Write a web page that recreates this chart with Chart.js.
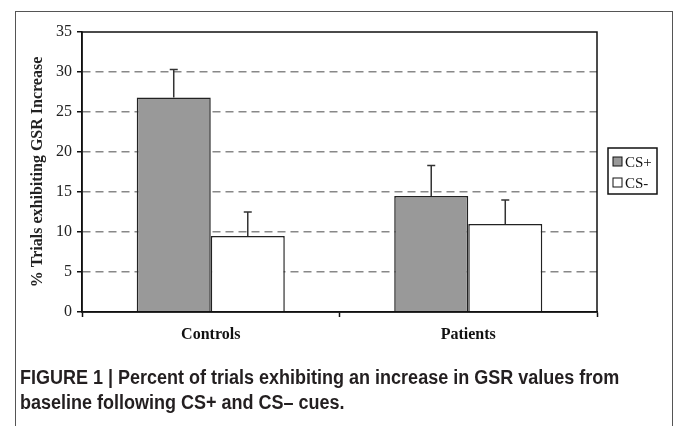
<!DOCTYPE html>
<html>
<head>
<meta charset="utf-8">
<script src="https://cdn.jsdelivr.net/npm/chart.js@4"></script>
<style>
  html, body { margin: 0; padding: 0; background: #fff; overflow: hidden; }
  #wrap { position: relative; width: 675px; height: 426px; }
  #frame { position: absolute; left: 15px; top: 11px; width: 658px; height: 480px; border: 1.5px solid #555; box-sizing: border-box; }
  #c { position: absolute; left: 0; top: 0; }
  #caption { position: absolute; left: 20px; top: 365px; font: bold 20px 'Liberation Sans Narrow', 'Liberation Sans', sans-serif; color: #231f20; line-height: 25px; white-space: nowrap; transform: scaleX(0.9); transform-origin: 0 0; }
</style>
</head>
<body>
<div id="wrap">
  <div id="frame"></div>
  <canvas id="c" width="675" height="426"></canvas>
  <div id="caption">FIGURE 1 | Percent of trials exhibiting an increase in GSR values from<br>baseline following CS+ and CS– cues.</div>
</div>
<script>
// данные с картинки
const categories = ['Controls', 'Patients'];
const seriesNames = ['CS+', 'CS-'];
const csPlus = [26.8, 14.5];
const csMinus = [9.5, 11.0];
const csPlusErr = [3.5, 3.8];   // только вверх
const csMinusErr = [3.0, 3.0];
const yTicks = [0, 5, 10, 15, 20, 25, 30, 35];

const serif = "'Liberation Serif', 'DejaVu Serif', serif";
const fills = ['#999999', '#ffffff'];
const errs = [csPlusErr, csMinusErr];

// рамка графика, усы ошибок и легенда в рамке
const extras = {
    id: 'extras',
    afterDatasetsDraw(chart) {
        const ctx = chart.ctx;
        const a = chart.chartArea;
        const y = chart.scales.y;

        ctx.save();
        ctx.strokeStyle = '#333';
        ctx.lineWidth = 1.5;
        chart.data.datasets.forEach((ds, i) => {
            chart.getDatasetMeta(i).data.forEach((bar, j) => {
                const top = y.getPixelForValue(ds.data[j] + errs[i][j]);
                ctx.beginPath();
                ctx.moveTo(bar.x, bar.y);
                ctx.lineTo(bar.x, top);
                ctx.moveTo(bar.x - 4, top);
                ctx.lineTo(bar.x + 4, top);
                ctx.stroke();
            });
        });

        // рамка области построения
        ctx.strokeStyle = '#111';
        ctx.lineWidth = 1.5;
        ctx.strokeRect(a.left, a.top, a.right - a.left, a.bottom - a.top);

        // легенда
        const lx = a.right + 11, ly = 148, lw = 49, lh = 46;
        ctx.fillStyle = '#fff';
        ctx.fillRect(lx, ly, lw, lh);
        ctx.strokeStyle = '#111';
        ctx.strokeRect(lx, ly, lw, lh);
        ctx.font = '15px ' + serif;
        ctx.textBaseline = 'middle';
        seriesNames.forEach((name, i) => {
            const cy = ly + 14 + i * 21;
            ctx.fillStyle = fills[i];
            ctx.fillRect(lx + 5, cy - 5, 9, 9);
            ctx.lineWidth = 1;
            ctx.strokeStyle = '#111';
            ctx.strokeRect(lx + 5, cy - 5, 9, 9);
            ctx.fillStyle = '#111';
            ctx.fillText(name, lx + 17, cy + 1);
        });
        ctx.restore();
    }
};

new Chart(document.getElementById('c'), {
    type: 'bar',
    data: {
        labels: categories,
        datasets: [
            { label: seriesNames[0], data: csPlus, backgroundColor: fills[0], borderColor: '#222', borderWidth: 1.5 },
            { label: seriesNames[1], data: csMinus, backgroundColor: fills[1], borderColor: '#222', borderWidth: 1.5 }
        ]
    },
    options: {
        responsive: false,
        animation: false,
        categoryPercentage: 0.575,
        barPercentage: 1.0,
        layout: { padding: { left: 24, right: 78, top: 32, bottom: 74 } },
        plugins: { legend: { display: false }, tooltip: { enabled: false } },
        scales: {
            x: {
                afterFit: s => { s.height = 40; },
                grid: { offset: true, drawOnChartArea: false, drawTicks: true, tickLength: 5, tickColor: '#111', tickWidth: 1.5 },
                border: { display: true, color: '#111', width: 1.5 },
                ticks: { color: '#111', padding: 8, font: { family: serif, size: 16, weight: 'bold' } }
            },
            y: {
                min: 0, max: 35,
                afterFit: s => { s.width = 58; },
                afterBuildTicks: s => { s.ticks = yTicks.map(v => ({ value: v })); },
                grid: {
                    color: c => (c.tick && (c.tick.value === 0 || c.tick.value === 35)) ? 'rgba(0,0,0,0)' : '#888',
                    lineWidth: 1.5,
                    tickLength: 5, tickColor: '#111', tickWidth: 1.5
                },
                border: { display: true, color: '#111', width: 1.5, dash: [8, 5] },
                ticks: { color: '#222', padding: 5, font: { family: serif, size: 16 } },
                title: { display: true, text: '% Trials exhibiting GSR Increase', color: '#222', font: { family: serif, size: 16, weight: 'bold' } }
            }
        }
    },
    plugins: [extras]
});
</script>
</body>
</html>
